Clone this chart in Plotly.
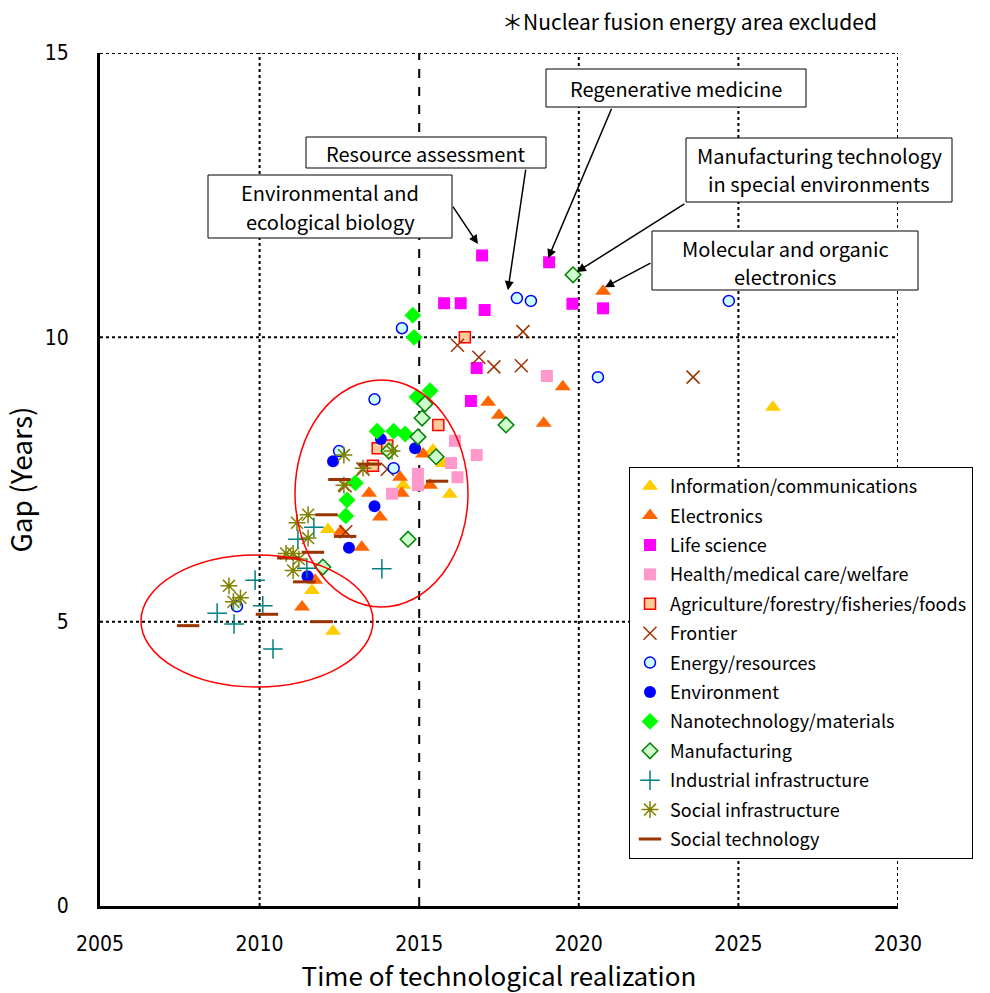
import plotly.graph_objects as go

# ---- data: (time of technological realization, gap in years) per field ----
info_x = [2011.64, 2012.14, 2012.30, 2014.50, 2015.43, 2015.75, 2015.96, 2026.08]
info_y = [5.55, 6.62, 4.83, 7.40, 8.02, 7.78, 7.24, 8.77]

elec_x = [2011.33, 2011.74, 2012.55, 2013.20, 2013.43, 2013.77, 2014.40, 2014.45,
          2015.12, 2015.34, 2017.16, 2017.50, 2018.90, 2019.50, 2020.76]
elec_y = [5.26, 5.73, 6.59, 6.31, 7.26, 6.84, 7.54, 7.26,
          7.95, 7.40, 8.86, 8.63, 8.49, 9.13, 10.81]

life_x = [2015.78, 2016.30, 2016.97, 2017.05, 2016.80, 2016.62, 2019.07, 2019.80, 2020.76]
life_y = [10.60, 10.60, 11.44, 10.48, 9.46, 8.88, 11.32, 10.59, 10.51]

health_x = [2014.15, 2014.96, 2014.96, 2016.00, 2016.12, 2016.20, 2016.80, 2019.00]
health_y = [7.25, 7.60, 7.40, 7.79, 8.18, 7.54, 7.93, 9.32]

agri_x = [2013.55, 2013.70, 2014.00, 2015.60, 2016.43]
agri_y = [7.74, 8.05, 8.10, 8.46, 10.00]

front_x = [2012.68, 2012.70, 2013.24, 2014.00, 2016.20, 2016.87, 2017.34, 2018.20, 2018.25, 2023.58]
front_y = [7.39, 6.58, 7.68, 7.68, 9.86, 9.65, 9.48, 9.50, 10.10, 9.30]

energy_x = [2009.29, 2012.49, 2013.60, 2014.20, 2014.46, 2018.06, 2018.50, 2020.60, 2024.70]
energy_y = [5.27, 8.00, 8.91, 7.70, 10.16, 10.69, 10.64, 9.30, 10.64]

env_x = [2011.50, 2012.30, 2012.80, 2013.60, 2013.80, 2014.87]
env_y = [5.80, 7.82, 6.30, 7.03, 8.21, 8.05]

nano_x = [2012.70, 2012.74, 2013.00, 2013.68, 2014.20, 2014.56, 2014.84, 2014.80, 2014.93, 2015.34]
nano_y = [6.86, 7.14, 7.44, 8.35, 8.35, 8.30, 10.00, 10.39, 8.95, 9.06]

manuf_x = [2011.98, 2014.05, 2014.65, 2014.96, 2015.09, 2015.18, 2015.53, 2017.72, 2019.82]
manuf_y = [5.96, 8.00, 6.45, 8.25, 8.58, 8.83, 7.90, 8.46, 11.10]

indus_x = [2008.67, 2009.20, 2009.86, 2010.10, 2010.42, 2011.20, 2011.48, 2011.70, 2013.83]
indus_y = [5.15, 4.96, 5.73, 5.28, 4.52, 6.45, 5.94, 6.66, 5.93]

sinfra_x = [2009.04, 2009.18, 2009.40, 2010.83, 2011.05, 2011.05, 2011.17, 2011.23,
            2011.52, 2011.52, 2012.64, 2012.64, 2013.24, 2014.15]
sinfra_y = [5.63, 5.35, 5.42, 6.20, 6.20, 5.90, 6.74, 6.10,
            6.88, 6.47, 7.93, 7.40, 7.70, 8.00]

stech_x = [2007.76, 2010.23, 2010.90, 2011.40, 2011.67, 2011.95, 2012.10, 2012.50,
           2012.68, 2013.46, 2015.56]
stech_y = [4.93, 5.13, 6.12, 5.70, 6.22, 5.00, 6.88, 7.50,
           6.50, 7.77, 7.47]

x_ticks = [2005, 2010, 2015, 2020, 2025, 2030]
y_ticks = [0, 5, 10, 15]

# ---- page geometry ----
W, H = 990, 993
ML, MR, MT, MB = 100, 92, 53, 87
PW, PH = W - ML - MR, H - MT - MB
X0, X1, Y0, Y1 = 2005, 2030, 0, 15


def paper(px, py):
    """Pixel position on the page -> paper coordinates."""
    return (px - ML) / PW, (H - MB - py) / PH


FONT = "Noto Sans CJK JP, Noto Sans, sans-serif"
TICK_FONT = "Liberation Sans Narrow, DejaVu Sans Condensed, " + FONT

fig = go.Figure()


def add(name, xs, ys, symbol, size, color, line_color=None, line_width=0):
    fig.add_trace(go.Scatter(
        x=xs, y=ys, mode="markers", name=name, legendgroup=name,
        marker=dict(symbol=symbol, size=size, color=color,
                    line=dict(color=line_color or color, width=line_width)),
    ))


add("Information/communications", info_x, info_y, "triangle-up", 14, "#FFCC00")
add("Electronics", elec_x, elec_y, "triangle-up", 14, "#FF6600")
add("Life science", life_x, life_y, "square", 12, "#FF00FF")
add("Health/medical care/welfare", health_x, health_y, "square", 12, "#FF99CC")
add("Agriculture/forestry/fisheries/foods", agri_x, agri_y, "square", 11, "#FFCC99", "#FF0000", 1.5)
add("Frontier", front_x, front_y, "x-thin-open", 13, "#993300", "#993300", 1.5)
add("Energy/resources", energy_x, energy_y, "circle", 11, "#CCFFFF", "#0000FF", 1.5)
add("Environment", env_x, env_y, "circle", 12, "#0000FF")
add("Nanotechnology/materials", nano_x, nano_y, "diamond", 13, "#00FF00")
add("Manufacturing", manuf_x, manuf_y, "diamond", 12, "#CCFFCC", "#008000", 1.5)
add("Industrial infrastructure", indus_x, indus_y, "cross-thin-open", 14, "#008080", "#008080", 1.5)
add("Social infrastructure", sinfra_x, sinfra_y, "asterisk-open", 14, "#808000", "#808000", 1.5)
add("Social technology", stech_x, stech_y, "line-ew-open", 16, "#993300", "#993300", 3)

# ---- grid lines ----
shapes = []
for xv in x_ticks[1:]:
    shapes.append(dict(type="line", xref="x", yref="y", x0=xv, x1=xv, y0=Y0, y1=Y1,
                       layer="below",
                       line=dict(color="black", width=2, dash="dash" if xv == 2015 else "dot")))
for yv in y_ticks[1:]:
    shapes.append(dict(type="line", xref="x", yref="y", x0=X0, x1=X1, y0=yv, y1=yv,
                       layer="below", line=dict(color="black", width=2, dash="dot")))

# ---- highlighted clusters ----
def ellipse(left, right, top, bottom):
    x0 = X0 + (left - ML) / PW * (X1 - X0)
    x1 = X0 + (right - ML) / PW * (X1 - X0)
    y1 = (H - MB - top) / PH * (Y1 - Y0)
    y0 = (H - MB - bottom) / PH * (Y1 - Y0)
    return dict(type="circle", xref="x", yref="y", x0=x0, x1=x1, y0=y0, y1=y1,
                line=dict(color="#FF0000", width=1.5), layer="above")

shapes.append(ellipse(141, 373, 555, 687))
shapes.append(ellipse(295, 468, 380, 607))

# ---- labelled boxes: frame (left, top, right, bottom) and text lines (text, centre y) ----
annotations = []
boxes = [
    ((208, 175, 452, 238), [("Environmental and", 193), ("ecological biology", 221)]),
    ((306, 137, 546, 168), [("Resource assessment", 153)]),
    ((546, 69, 806, 107), [("Regenerative medicine", 88)]),
    ((686, 138, 952, 202), [("Manufacturing technology", 156), ("in special environments", 184)]),
    ((652, 231, 918, 290), [("Molecular and organic", 248), ("electronics", 276)]),
]
for (bl, bt, br, bb), lines in boxes:
    x0, y1 = paper(bl, bt)
    x1, y0 = paper(br, bb)
    shapes.append(dict(type="rect", xref="paper", yref="paper", x0=x0, x1=x1, y0=y0, y1=y1,
                       fillcolor="white", line=dict(color="black", width=1), layer="above"))
    cx = (bl + br) / 2
    for text, ly_ in lines:
        px_, py_ = paper(cx, ly_)
        annotations.append(dict(
            text=text, x=px_, y=py_, xref="paper", yref="paper", showarrow=False,
            xanchor="center", yanchor="middle",
            font=dict(family=FONT, size=20, color="black"),
        ))

# arrows: (tip x, tip y) in data, tail offset in pixels
arrows = [
    (2016.84, 11.64, -26, -39),
    (2017.78, 10.83, 18, -122),
    (2019.04, 11.39, 64, -151),
    (2019.94, 11.15, 109, -69),
    (2020.82, 10.88, 47, -25),
]
for ax_x, ax_y, dx, dy in arrows:
    annotations.append(dict(
        text="", x=ax_x, y=ax_y, xref="x", yref="y", ax=dx, ay=dy,
        showarrow=True, arrowhead=2, arrowsize=1.2, arrowwidth=1.5, arrowcolor="black",
    ))

nx, ny = paper(500, 21)
annotations.append(dict(
    text="＊Nuclear fusion energy area excluded", x=nx, y=ny, xref="paper", yref="paper",
    showarrow=False, xanchor="left", yanchor="middle",
    font=dict(family=FONT, size=21, color="black"),
))

lx, ly = paper(629, 467)

fig.update_layout(
    width=W, height=H,
    margin=dict(l=ML, r=MR, t=MT, b=MB, autoexpand=False),
    paper_bgcolor="white", plot_bgcolor="white",
    font=dict(family=FONT, color="black"),
    shapes=shapes, annotations=annotations,
    showlegend=True,
    legend=dict(
        x=lx, y=ly, xanchor="left", yanchor="top",
        bgcolor="white", bordercolor="black", borderwidth=1,
        font=dict(family=FONT, size=18, color="black"),
        traceorder="grouped", tracegroupgap=3, itemwidth=30,
    ),
    xaxis=dict(
        range=[X0, X1], tickvals=x_ticks, ticktext=[str(v) for v in x_ticks],
        showgrid=False, zeroline=False,
        showline=True, linecolor="black", linewidth=3,
        ticks="", ticklabelstandoff=17,
        tickfont=dict(family=TICK_FONT, size=21),
        title=dict(text="Time of technological realization", standoff=18,
                   font=dict(family=FONT, size=26)),
        automargin=False,
    ),
    yaxis=dict(
        range=[Y0, Y1], tickvals=y_ticks, ticktext=[str(v) for v in y_ticks],
        showgrid=False, zeroline=False,
        showline=True, linecolor="black", linewidth=3,
        ticks="", ticklabelstandoff=24,
        tickfont=dict(family=TICK_FONT, size=21),
        title=dict(text="Gap (Years)", standoff=14, font=dict(family=FONT, size=28)),
        automargin=False,
    ),
)

fig.write_html("out.html")
